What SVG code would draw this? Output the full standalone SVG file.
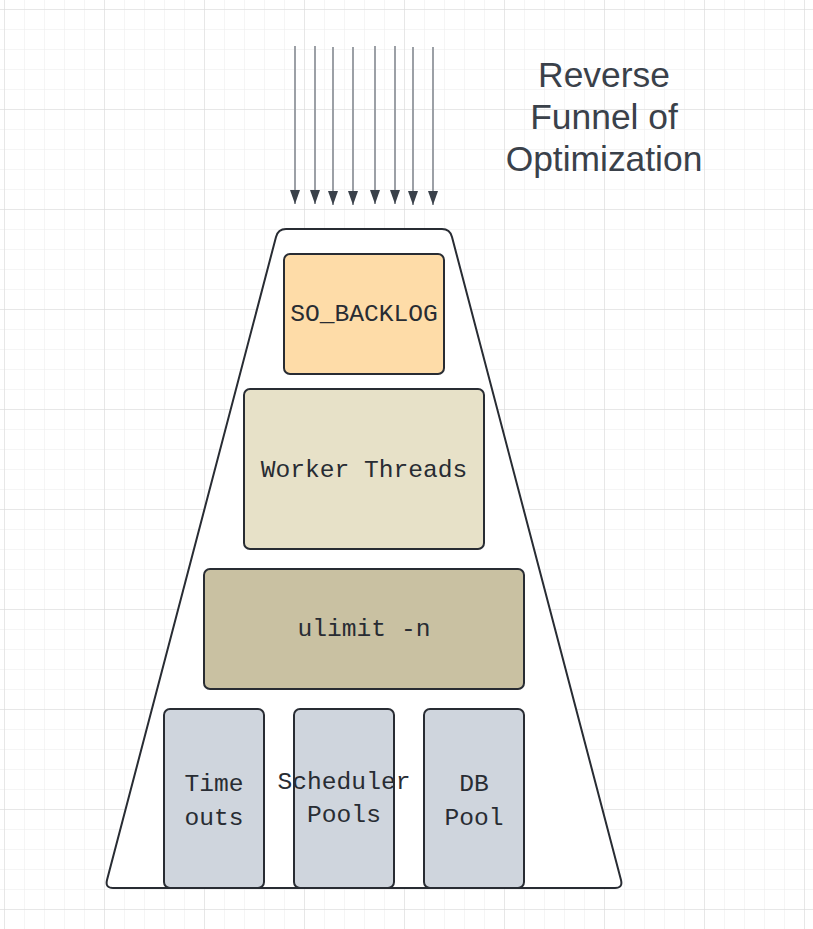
<svg xmlns="http://www.w3.org/2000/svg" width="813" height="929" viewBox="0 0 813 929">
<defs>
<pattern id="minor" x="4" y="9" width="20" height="20" patternUnits="userSpaceOnUse">
<path d="M0 0H20M0 0V20" fill="none" stroke="#ebebeb" stroke-width="1"/>
</pattern>
<pattern id="major" x="4" y="9" width="100" height="100" patternUnits="userSpaceOnUse">
<path d="M0 0H100M0 0V100" fill="none" stroke="#d9d9d9" stroke-width="1"/>
</pattern>
<marker id="ah" viewBox="0 0 14 10" refX="14" refY="5" markerWidth="14" markerHeight="10" markerUnits="userSpaceOnUse" orient="auto">
<path d="M0 0L14 5L0 10Z" fill="#3a414a"/>
</marker>
</defs>
<style>
.box{stroke:#282c33;stroke-width:2}
.lbl{font-family:"Liberation Mono","DejaVu Sans Mono",monospace;font-size:24.6px;fill:#282c33;text-anchor:middle}
.title{font-family:"Liberation Sans",Arial,sans-serif;font-size:35.4px;fill:#3a414a;text-anchor:middle}
.arr{stroke:#9ca0a6;stroke-width:2;fill:none;marker-end:url(#ah)}
</style>
<rect width="813" height="929" fill="#ffffff"/>
<rect width="813" height="929" fill="url(#minor)"/>
<rect width="813" height="929" fill="url(#major)"/>

<g id="funnel">
<path d="M286 229H442Q450 229 452 237L621 880Q623 888 615 888H113Q105 888 107 880L276 237Q278 229 286 229Z" fill="#ffffff" stroke="#282c33" stroke-width="2"/>
</g>

<g id="connectors">
<line class="arr" x1="295" y1="46" x2="295" y2="204"/>
<line class="arr" x1="315" y1="46" x2="315" y2="204"/>
<line class="arr" x1="333" y1="47" x2="333" y2="205"/>
<line class="arr" x1="353" y1="47" x2="353" y2="205"/>
<line class="arr" x1="375" y1="46" x2="375" y2="204"/>
<line class="arr" x1="395" y1="46" x2="395" y2="204"/>
<line class="arr" x1="413" y1="47" x2="413" y2="205"/>
<line class="arr" x1="433" y1="47" x2="433" y2="205"/>
</g>

<g id="title">
<text class="title" x="604" y="87">Reverse</text>
<text class="title" x="604" y="129">Funnel of</text>
<text class="title" x="604" y="171">Optimization</text>
</g>

<g id="so_backlog">
<rect class="box" x="284" y="254" width="160" height="120" rx="6" fill="#fedca8"/>
<text class="lbl" x="364" y="321">SO_BACKLOG</text>
</g>

<g id="worker_threads">
<rect class="box" x="244" y="389" width="240" height="160" rx="6" fill="#e7e1c8"/>
<text class="lbl" x="364" y="477">Worker Threads</text>
</g>

<g id="ulimit">
<rect class="box" x="204" y="569" width="320" height="120" rx="6" fill="#c9c1a2"/>
<text class="lbl" x="364" y="636">ulimit -n</text>
</g>

<g id="timeouts">
<rect class="box" x="164" y="709" width="100" height="179" rx="6" fill="#cfd5dd"/>
<text class="lbl" x="214" y="791">Time</text>
<text class="lbl" x="214" y="825">outs</text>
</g>

<g id="scheduler_pools">
<rect class="box" x="294" y="709" width="100" height="179" rx="6" fill="#cfd5dd"/>
<text class="lbl" x="344" y="789">Scheduler</text>
<text class="lbl" x="344" y="822">Pools</text>
</g>

<g id="db_pool">
<rect class="box" x="424" y="709" width="100" height="179" rx="6" fill="#cfd5dd"/>
<text class="lbl" x="474" y="791">DB</text>
<text class="lbl" x="474" y="825">Pool</text>
</g>
</svg>
